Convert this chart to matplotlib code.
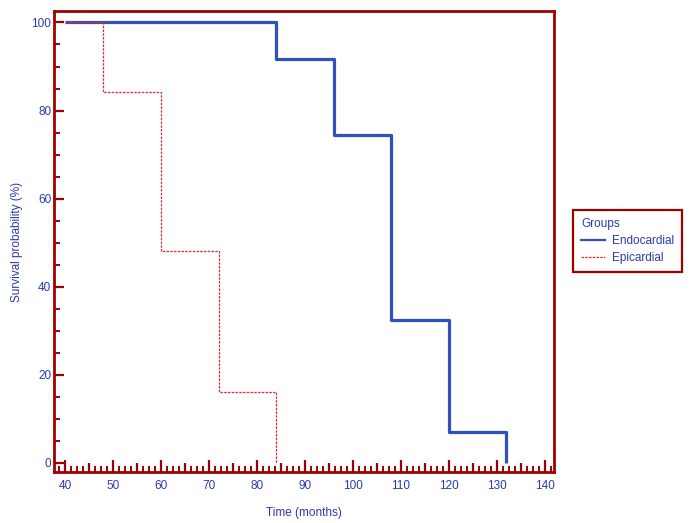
import matplotlib
matplotlib.use('Agg')
import matplotlib.pyplot as plt
from matplotlib.ticker import MultipleLocator, FuncFormatter
from matplotlib.lines import Line2D

plt.rcParams['font.family'] = ['Liberation Sans', 'DejaVu Sans']

# Kaplan-Meier steps
endo_time = [40, 84, 84, 96, 96, 108, 108, 120, 120, 132, 132]
endo_surv = [100, 100, 91.7, 91.7, 74.5, 74.5, 32.5, 32.5, 7.0, 7.0, 0]

epi_time = [40, 48, 48, 60, 60, 72, 72, 84, 84]
epi_surv = [100, 100, 84.2, 84.2, 48.2, 48.2, 16.1, 16.1, 0]

group_names = ['Endocardial', 'Epicardial']

spine_col = '#a00000'
text_col = '#2a3ab0'
endo_col = '#3050c0'
epi_col = '#e8282a'

fig = plt.figure(figsize=(6.94, 5.23), dpi=100)
ax = fig.add_axes([54 / 694, 1 - 472 / 523, 500 / 694, 461 / 523])

ax.plot(endo_time, endo_surv, color=endo_col, lw=2.3, solid_capstyle='butt')
ax.plot(epi_time, epi_surv, color=epi_col, lw=0.9, dashes=(2, 1))

ax.set_xlim(37.7, 141.9)
ax.set_ylim(-2.05, 102.6)

for s in ax.spines.values():
    s.set_color(spine_col)
    s.set_linewidth(2.0)

ax.xaxis.set_major_locator(MultipleLocator(5))
ax.xaxis.set_minor_locator(MultipleLocator(1.25))
ax.xaxis.set_major_formatter(FuncFormatter(lambda v, p: '%d' % v if round(v) % 10 == 0 else ''))
ax.yaxis.set_major_locator(MultipleLocator(20))
ax.yaxis.set_minor_locator(MultipleLocator(5))

ax.tick_params(axis='both', which='both', direction='in', color=spine_col,
               labelcolor=text_col, labelsize=8.5, top=False, right=False)
ax.tick_params(axis='x', which='major', length=9, width=1.6, pad=6)
ax.tick_params(axis='x', which='minor', length=4.5, width=1.4)
ax.tick_params(axis='y', which='major', length=7, width=1.6, pad=2)
ax.tick_params(axis='y', which='minor', length=4.5, width=1.4)

# medium ticks at the fives
for t, v in zip(ax.xaxis.get_major_ticks(), ax.xaxis.get_majorticklocs()):
    if round(v) % 10 != 0:
        t.tick1line.set_markersize(6.5)

ax.set_xlabel('Time (months)', color=text_col, fontsize=8.5, labelpad=4)
ax.set_ylabel('Survival probability (%)', color=text_col, fontsize=8.5, labelpad=6)
ax.xaxis.set_label_coords(0.5, -0.075)

handles = [Line2D([], [], color=endo_col, lw=1.6),
           Line2D([], [], color=epi_col, lw=0.9, dashes=(2, 1))]
leg = fig.legend(handles, group_names, title='Groups', loc='upper left',
                 bbox_to_anchor=(573 / 694, 1 - 210 / 523), borderaxespad=0,
                 fontsize=8.5, title_fontsize=8.5, fancybox=False, framealpha=1,
                 handlelength=2.0, handletextpad=0.6, labelspacing=0.4,
                 borderpad=0.7, alignment='left')
leg.get_frame().set_edgecolor(spine_col)
leg.get_frame().set_linewidth(1.6)
leg.get_title().set_color(text_col)
for txt in leg.get_texts():
    txt.set_color(text_col)

fig.savefig('out.png', dpi=100)
